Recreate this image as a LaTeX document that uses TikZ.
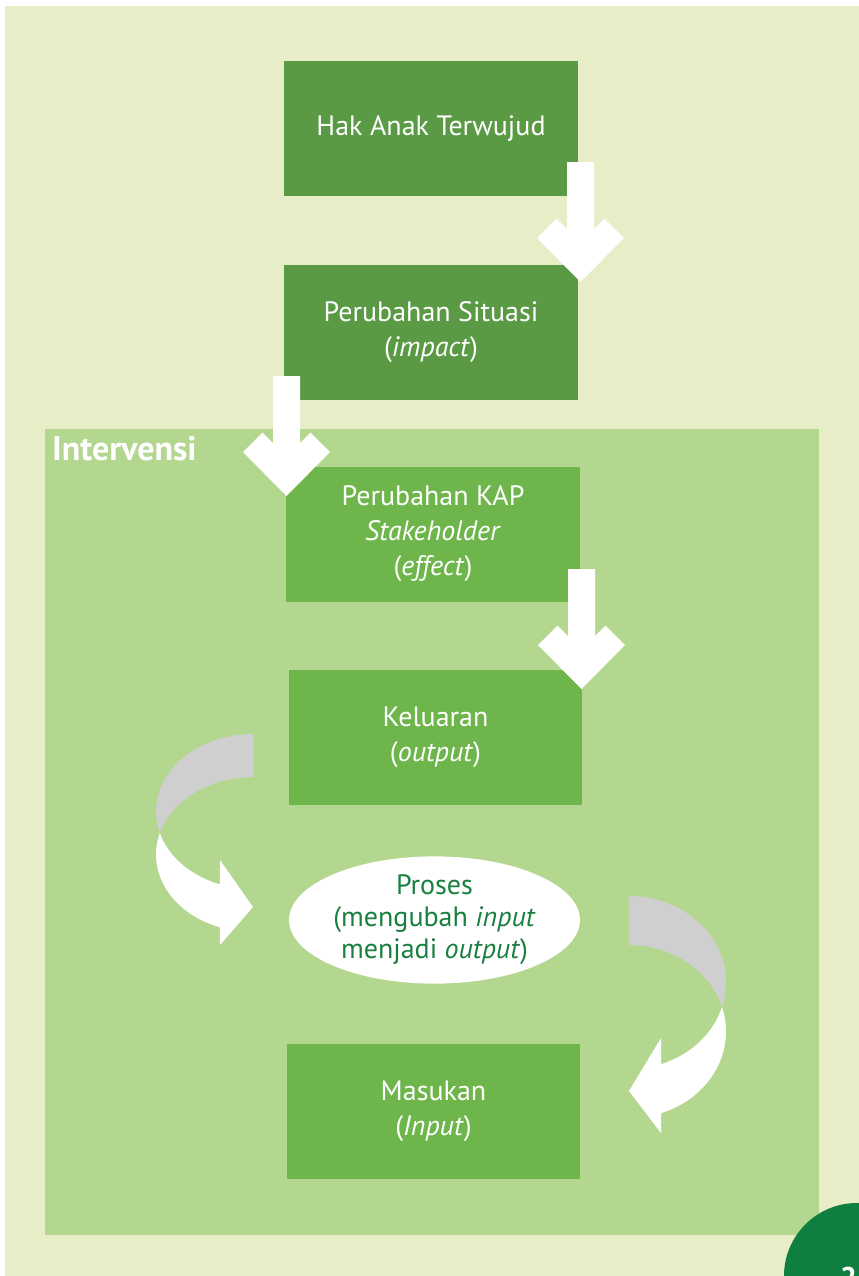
\documentclass[tikz,border=0pt]{standalone}
\usepackage{fontspec}
\setmainfont{PT Sans}
\usetikzlibrary{shapes.geometric}
\definecolor{bgouter}{HTML}{E6EDC7}
\definecolor{interv}{HTML}{B3D78F}
\definecolor{boxdark}{HTML}{5B9A44}
\definecolor{boxmid}{HTML}{6EB64B}
\definecolor{backgray}{HTML}{CFCFCF}
\definecolor{pagegreen}{HTML}{0E7F3F}
\definecolor{proctext}{HTML}{1A8040}
\tikzset{
  fbox/.style={rectangle, inner sep=0pt, minimum width=294bp, minimum height=135bp,
    text=white, align=center, font=\fontsize{28bp}{35bp}\selectfont},
  darkbox/.style={fbox, fill=boxdark},
  midbox/.style={fbox, fill=boxmid},
}
% block arrow: #1 = centre x, #2 = shaft top y
\newcommand{\downblockarrow}[2]{%
  \fill[white] ({#1-13.5},#2) -- ({#1+13.5},#2) -- ({#1+13.5},{#2+67}) -- ({#1+24},{#2+56.5})
    -- ({#1+43.5},{#2+76}) -- (#1,{#2+120}) -- ({#1-43.5},{#2+76}) -- ({#1-24},{#2+56.5})
    -- ({#1-13.5},{#2+67}) -- cycle;}
\begin{document}
\begin{tikzpicture}[x=1bp,y=-1bp]
\useasboundingbox (0,0) rectangle (859,1276);
\fill[white] (0,0) rectangle (859,1276);
\fill[bgouter] (5,6) rectangle (859,1276);
\fill[interv] (45,429) rectangle (819,1235);
\node[anchor=base west, inner sep=0pt, text=white, font=\fontsize{34bp}{40bp}\selectfont\bfseries] (intv) at (52,460) {Intervensi};

\node[darkbox] (hak) at (431,128.5) {Hak Anak Terwujud};
\node[darkbox] (sit) at (431,332.5) {Perubahan Situasi\\(\textit{impact})};
\node[midbox] (kap) at (433,534) {Perubahan KAP\\\textit{Stakeholder}\\(\textit{effect})};
\node[midbox, minimum width=293bp] (out) at (435.5,737.5) {Keluaran\\(\textit{output})};
\node[ellipse, fill=white, inner sep=0pt, minimum width=291bp, minimum height=109bp,
  text=proctext, align=center, font=\fontsize{28bp}{32bp}\selectfont] (proc) at (434.5,920)
  {Proses\\(mengubah \textit{input}\\menjadi \textit{output})};
\node[midbox, minimum width=293bp] (inp) at (433.5,1111.5) {Masukan\\(\textit{Input})};

% straight block arrows
\downblockarrow{580.5}{162}
\downblockarrow{286.5}{376}
\downblockarrow{581.5}{569}

% left curved arrow (output -> proses)
\fill[backgray] plot[domain=90:196.1, samples=50, variable=\t] ({253+97*cos(\t)},{811.5-77.5*sin(\t)})
  -- plot[domain=163.9:90, samples=50, variable=\t] ({253+97*cos(\t)},{854.5-77.5*sin(\t)}) -- cycle;
\fill[white] plot[domain=163.9:250.1, samples=50, variable=\t] ({253+97*cos(\t)},{854.5-77.5*sin(\t)})
  -- (220,945) -- (253,907) -- (220,860)
  -- plot[domain=250.1:196.1, samples=50, variable=\t] ({253+97*cos(\t)},{811.5-77.5*sin(\t)}) -- cycle;

% right curved arrow (proses -> masukan)
\fill[backgray] plot[domain=90:-16.5, samples=50, variable=\t] ({629+97*cos(\t)},{982.5-86.5*sin(\t)})
  -- plot[domain=16.5:90, samples=50, variable=\t] ({629+97*cos(\t)},{1031.5-86.5*sin(\t)}) -- cycle;
\fill[white] plot[domain=16.5:-70.7, samples=50, variable=\t] ({629+97*cos(\t)},{1031.5-86.5*sin(\t)})
  -- (661,1133) -- (629,1091) -- (661,1038)
  -- plot[domain=-70.7:-16.5, samples=50, variable=\t] ({629+97*cos(\t)},{982.5-86.5*sin(\t)}) -- cycle;

% page number
\fill[pagegreen] (857,1276) circle[radius=73];
\node[anchor=base west, inner sep=0pt, text=white, font=\fontsize{30bp}{36bp}\selectfont\bfseries] (pg) at (840,1288) {2};
\end{tikzpicture}
\end{document}
